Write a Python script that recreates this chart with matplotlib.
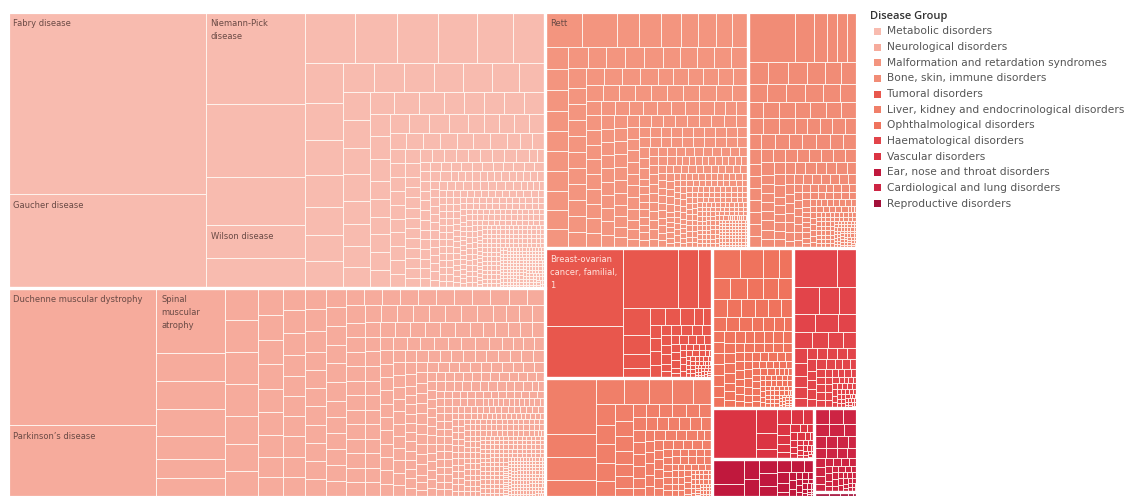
import matplotlib
matplotlib.use("Agg")
import matplotlib.pyplot as plt
from matplotlib.patches import Rectangle
from matplotlib.collections import PatchCollection

# ---------------- data ----------------
groups = [
    "Metabolic disorders", "Neurological disorders",
    "Malformation and retardation syndromes", "Bone, skin, immune disorders",
    "Tumoral disorders", "Liver, kidney and endocrinological disorders",
    "Ophthalmological disorders", "Haematological disorders",
    "Vascular disorders", "Ear, nose and throat disorders",
    "Cardiological and lung disorders", "Reproductive disorders",
]
group_colors = [
    "#f8bbaf", "#f6ab9c", "#f3957f", "#f18c76", "#e8574d", "#f07f69",
    "#ef735d", "#e2444a", "#db3443", "#c0183d", "#cd2443", "#a3103a",
]

# largest diseases per group (estimated sizes), followed by tail tiers (value, count)
metabolic_values = [3584, 1861, 911, 720, 480, 325, 298, 253, 215, 210, 195, 185, 160, 156,
                    143, 134, 125, 107, 103, 103, 89, 89, 86, 85, 84, 80, 74, 74, 71, 69, 69, 62]
metabolic_names = ["Fabry disease", "Gaucher disease", "Niemann-Pick\ndisease", None, None,
                   "Wilson disease"]
metabolic_tail = [(55, 6), (45, 8), (36, 10), (28, 12), (21, 15), (15, 20), (10, 28),
                  (7, 36), (5, 48), (4, 40), (3, 80), (2, 120), (1, 180)]

neuro_values = [2040, 1065, 447, 193, 189, 185, 162, 130, 128, 105, 105, 104, 102, 92, 88, 84,
                67, 63, 62, 61, 59, 57, 55, 50]
neuro_names = ["Duchenne muscular dystrophy", "Parkinson\u2019s disease",
               "Spinal\nmuscular\natrophy"]
neuro_tail = [(50, 4), (45, 10), (38, 14), (32, 18), (27, 20), (22, 22), (18, 26), (14, 30),
              (11, 34), (8, 40), (6, 46), (4, 55), (3, 90), (2, 120), (1, 160)]

malformation_values = [131, 122, 77, 77, 70, 61, 61, 59, 54, 50, 49, 48, 47, 46, 46, 45, 45,
                       44, 43, 42]
malformation_names = ["Rett"]
malformation_tail = [(40, 4), (36, 6), (30, 14), (25, 16), (21, 18), (17, 20), (14, 22),
                     (11, 26), (8, 32), (6, 38), (4, 46), (3, 55), (2, 70), (1, 90)]

bone_values = [234, 93, 65, 52, 50, 48, 46, 45, 44, 40, 38, 36, 35, 34, 33, 32, 31, 30]
bone_names = []
bone_tail = [(25, 10), (20, 14), (16, 16), (12, 18), (9, 20), (6, 24), (4, 28), (2, 45), (1, 60)]

tumoral_values = [616, 403, 333, 119, 84, 72, 50, 35, 27, 26, 25, 24]
tumoral_names = ["Breast-ovarian\ncancer, familial,\n1"]
tumoral_tail = [(15, 6), (10, 8), (7, 10), (4, 14), (2, 18), (1, 25)]

liver_values = [284, 119, 118, 86, 75, 67, 60, 55, 51, 40, 38, 36, 34, 32, 30, 28, 26, 24, 22, 20]
liver_names = []
liver_tail = [(17, 8), (14, 10), (11, 12), (8, 14), (6, 16), (4, 18), (2, 20), (1, 20)]

ophthal_values = [85, 69, 50, 41, 38, 36, 34, 32, 30, 26, 25, 24, 23, 22, 21, 20, 19, 18, 17, 16]
ophthal_names = []
ophthal_tail = [(13, 10), (11, 10), (9, 12), (7, 14), (5, 16), (3, 20), (2, 20), (1, 20)]

haemat_values = [172, 80, 70, 53, 48, 43, 43, 36, 30, 26, 24, 22, 20, 18, 16, 15, 14]
haemat_names = []
haemat_tail = [(11, 6), (9, 6), (7, 8), (5, 10), (3, 12), (2, 12), (1, 14)]

vascular_values = [225, 55, 34, 22, 21, 20, 18, 14, 12, 10, 9, 8]
vascular_names = []
vascular_tail = [(6, 4), (4, 5), (3, 6), (2, 5), (1, 5)]

ent_values = [81, 40, 30, 28, 26, 24, 20, 18, 16, 14, 12, 10]
ent_names = []
ent_tail = [(6, 4), (4, 5), (3, 4), (2, 4), (1, 6)]

cardio_values = [23, 22, 22, 18, 17, 16, 15, 14, 13, 12, 12, 11, 10, 10, 9, 9, 8, 8]
cardio_names = []
cardio_tail = [(6, 6), (4, 8), (3, 8), (2, 6), (1, 4)]

repro_values = [8, 6, 4, 3, 2]
repro_names = []
repro_tail = []

group_data = [
    (metabolic_values, metabolic_names, metabolic_tail),
    (neuro_values, neuro_names, neuro_tail),
    (malformation_values, malformation_names, malformation_tail),
    (bone_values, bone_names, bone_tail),
    (tumoral_values, tumoral_names, tumoral_tail),
    (liver_values, liver_names, liver_tail),
    (ophthal_values, ophthal_names, ophthal_tail),
    (haemat_values, haemat_names, haemat_tail),
    (vascular_values, vascular_names, vascular_tail),
    (ent_values, ent_names, ent_tail),
    (cardio_values, cardio_names, cardio_tail),
    (repro_values, repro_names, repro_tail),
]


# ---------------- treemap layout ----------------
def squarify(values, x, y, w, h, mode):
    tot = float(sum(values))
    areas = [v * w * h / tot for v in values]
    rects = []
    i, n = 0, len(areas)
    while i < n:
        rem = sum(areas[i:])
        side = min(w, h)

        def score(S, amin):
            if mode == "norm":
                s = S / rem
                fmax, fmin = areas[i] / rem, amin / rem
                return max(s * s / fmin, fmax / (s * s))
            a1 = areas[i]
            r = (S * S) / (a1 * side * side)
            return max(r, 1.0 / r)

        S = areas[i]
        best = score(S, areas[i])
        k = 1
        while i + k < n:
            S2 = S + areas[i + k]
            sc = score(S2, areas[i + k])
            if sc <= best:
                best, S, k = sc, S2, k + 1
            else:
                break
        row = areas[i:i + k]
        s = sum(row)
        if w >= h:
            t = s / h
            yy = y
            for a in row:
                hh = a / t
                rects.append((x, yy, t, hh))
                yy += hh
            x += t
            w -= t
        else:
            t = s / w
            xx = x
            for a in row:
                ww = a / t
                rects.append((xx, y, ww, t))
                xx += ww
            y += t
            h -= t
        i += k
    return rects


FIG_W, FIG_H = 1127, 497
X0, X1, Y0, Y1 = 8, 857, 12, 497
TW, TH = X1 - X0, Y1 - Y0

fig = plt.figure(figsize=(FIG_W / 100, FIG_H / 100), dpi=100)
ax = fig.add_axes([X0 / FIG_W, 1 - Y1 / FIG_H, TW / FIG_W, TH / FIG_H])
ax.set_xlim(0, TW)
ax.set_ylim(TH, 0)
ax.axis("off")

group_vals = []
for vals, names, tail in group_data:
    full = list(vals)
    for v, c in tail:
        full += [v] * c
    group_vals.append(full)

group_totals = [sum(v) for v in group_vals]
group_rects = squarify(group_totals, 0, 0, TW, TH, "norm")

text_font = ["DejaVu Sans"]
for gi, (gr, vals) in enumerate(zip(group_rects, group_vals)):
    gx, gy, gw, gh = gr
    cells = squarify(vals, gx, gy, gw, gh, "first")
    patches = [Rectangle((cx, cy), cw, ch) for cx, cy, cw, ch in cells]
    pc = PatchCollection(patches, facecolor=group_colors[gi], edgecolor="#fff7f2",
                         linewidth=0.6)
    ax.add_collection(pc)
    names = group_data[gi][1]
    tcolor = "#ffe4de" if gi == 4 else "#6a4a45"
    for ci, name in enumerate(names):
        if not name:
            continue
        cx, cy, cw, ch = cells[ci]
        clip = Rectangle((cx, cy), cw, ch, transform=ax.transData)
        t = ax.text(cx + 5, cy + 7, name, ha="left", va="top", fontsize=6.0,
                    color=tcolor, family=text_font, linespacing=1.6)
        t.set_clip_path(clip)

for gx, gy, gw, gh in group_rects:
    ax.add_patch(Rectangle((gx, gy), gw, gh, fill=False, edgecolor="white", linewidth=2.3))

# ---------------- legend ----------------
fig.text(870 / FIG_W, 1 - 17 / FIG_H, "Disease Group", ha="left", va="center",
         fontsize=8, fontweight="semibold", color="#333333", family=["Open Sans", "DejaVu Sans"])
for j, (g, c) in enumerate(zip(groups, group_colors)):
    yc = 31.5 + j * 15.64
    fig.patches.append(Rectangle((874 / FIG_W, 1 - (yc + 3.5) / FIG_H), 7 / FIG_W, 7 / FIG_H,
                                 transform=fig.transFigure, facecolor=c, edgecolor="none"))
    fig.text(887 / FIG_W, 1 - yc / FIG_H, g, ha="left", va="center", fontsize=7.7,
             color="#555555", family=text_font)

fig.savefig("out.png", dpi=100)
